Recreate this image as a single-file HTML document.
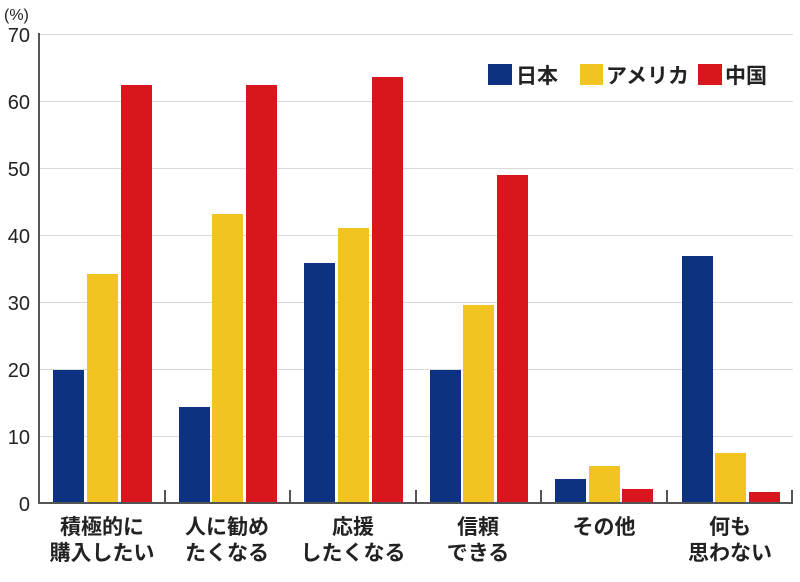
<!DOCTYPE html>
<html><head><meta charset="utf-8"><style>
html,body{margin:0;padding:0;background:#fff;}
svg text{font-family:"Liberation Sans","Noto Sans CJK JP",sans-serif;}
</style></head><body>
<svg width="800" height="577" viewBox="0 0 800 577" xmlns="http://www.w3.org/2000/svg">
<g stroke="#d9d9d9" stroke-width="1">
<line x1="39" y1="34.5" x2="793" y2="34.5"/>
<line x1="39" y1="101.5" x2="793" y2="101.5"/>
<line x1="39" y1="168.5" x2="793" y2="168.5"/>
<line x1="39" y1="235.5" x2="793" y2="235.5"/>
<line x1="39" y1="302.5" x2="793" y2="302.5"/>
<line x1="39" y1="369.5" x2="793" y2="369.5"/>
<line x1="39" y1="436.5" x2="793" y2="436.5"/>
</g>
<g font-size="20" fill="#222" text-anchor="end">
<text x="30" y="42">70</text>
<text x="30" y="109">60</text>
<text x="30" y="176">50</text>
<text x="30" y="243">40</text>
<text x="30" y="310">30</text>
<text x="30" y="377">20</text>
<text x="30" y="444">10</text>
<text x="30" y="511">0</text>
</g>
<text x="4" y="20" font-size="16" fill="#222">(%)</text>
<g>
<rect x="53" y="370" width="31" height="133" fill="#0d3282"/>
<rect x="87" y="274" width="31" height="229" fill="#f2c41f"/>
<rect x="121" y="85" width="31" height="418" fill="#d9161c"/>
<rect x="179" y="407" width="31" height="96" fill="#0d3282"/>
<rect x="212" y="214" width="31" height="289" fill="#f2c41f"/>
<rect x="246" y="85" width="31" height="418" fill="#d9161c"/>
<rect x="304" y="263" width="31" height="240" fill="#0d3282"/>
<rect x="338" y="228" width="31" height="275" fill="#f2c41f"/>
<rect x="372" y="77" width="31" height="426" fill="#d9161c"/>
<rect x="430" y="370" width="31" height="133" fill="#0d3282"/>
<rect x="463" y="305" width="31" height="198" fill="#f2c41f"/>
<rect x="497" y="175" width="31" height="328" fill="#d9161c"/>
<rect x="555" y="479" width="31" height="24" fill="#0d3282"/>
<rect x="589" y="466" width="31" height="37" fill="#f2c41f"/>
<rect x="622" y="489" width="31" height="14" fill="#d9161c"/>
<rect x="682" y="256" width="31" height="247" fill="#0d3282"/>
<rect x="715" y="453" width="31" height="50" fill="#f2c41f"/>
<rect x="749" y="492" width="31" height="11" fill="#d9161c"/>
</g>
<g stroke="#555" stroke-width="2">
<line x1="39" y1="33" x2="39" y2="504"/>
<line x1="38" y1="503" x2="793" y2="503"/>
<line x1="165" y1="490" x2="165" y2="503"/>
<line x1="290" y1="490" x2="290" y2="503"/>
<line x1="416" y1="490" x2="416" y2="503"/>
<line x1="541" y1="490" x2="541" y2="503"/>
<line x1="667" y1="490" x2="667" y2="503"/>
<line x1="792" y1="490" x2="792" y2="503"/>
</g>
<g font-size="21" font-weight="bold" fill="#222" text-anchor="middle">
<text x="102" y="534">積極的に</text><text x="102" y="560">購入したい</text>
<text x="227" y="534">人に勧め</text><text x="227" y="560">たくなる</text>
<text x="353" y="534">応援</text><text x="353" y="560">したくなる</text>
<text x="478" y="534">信頼</text><text x="478" y="560">できる</text>
<text x="604" y="534">その他</text>
<text x="730" y="534">何も</text><text x="730" y="560">思わない</text>
</g>
<rect x="488" y="64" width="24" height="21" fill="#0d3282"/>
<rect x="580" y="64" width="23" height="21" fill="#f2c41f"/>
<rect x="698" y="64" width="24" height="21" fill="#d9161c"/>
<g font-size="21" font-weight="bold" fill="#222">
<text x="516" y="83">日本</text>
<text x="606" y="83">アメリカ</text>
<text x="725" y="83">中国</text>
</g>
</svg>
</body></html>
